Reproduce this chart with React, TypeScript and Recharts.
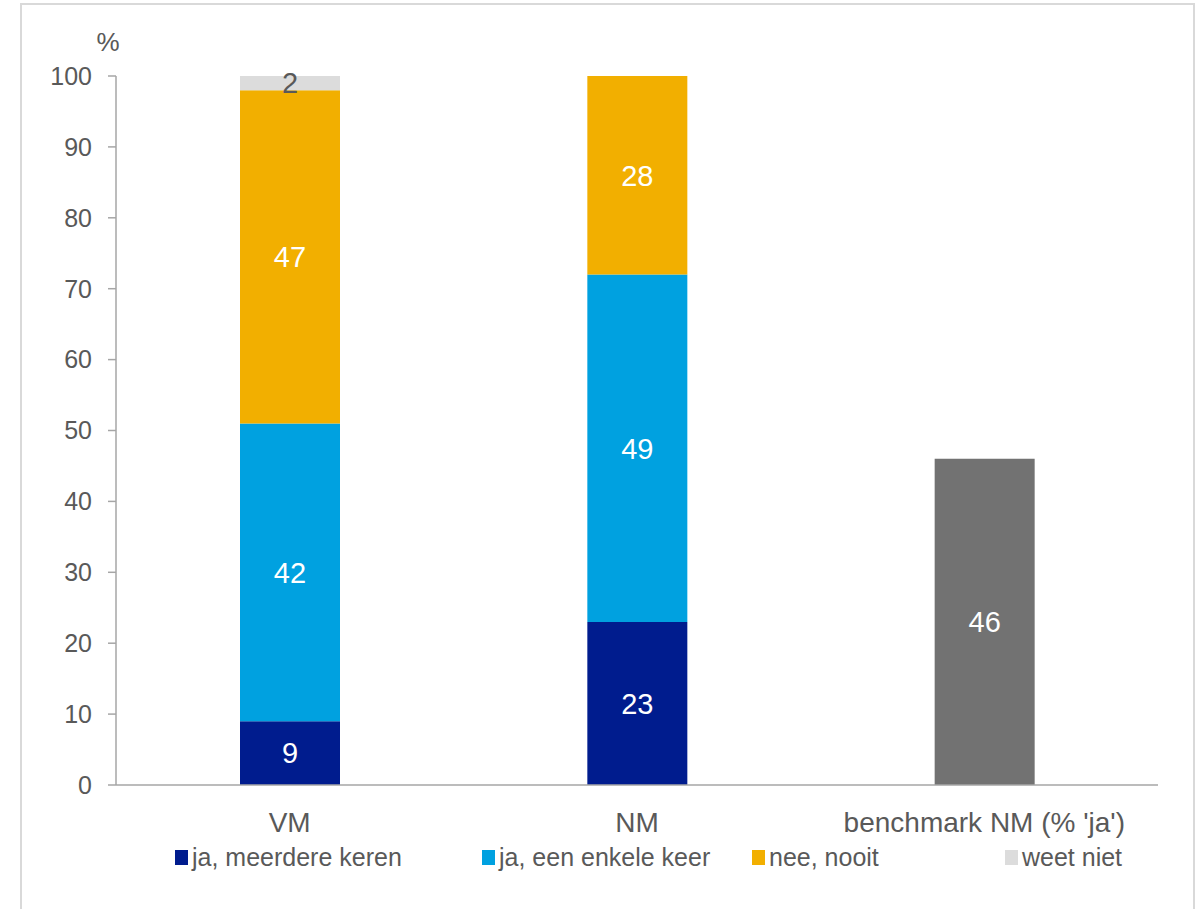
import { BarChart, Bar, XAxis, YAxis, Legend, LabelList } from "recharts";

const categories = ["VM", "NM", "benchmark NM (% 'ja')"];
const jaMeerdere = [9, 23, null];
const jaEnkele = [42, 49, null];
const neeNooit = [47, 28, null];
const weetNiet = [2, 0, null];
const benchmark = [null, null, 46];
const yTicks = [0, 10, 20, 30, 40, 50, 60, 70, 80, 90, 100];

const series = [
  { key: "jaMeerdere", name: "ja, meerdere keren", color: "#001C8E", label: "#ffffff" },
  { key: "jaEnkele", name: "ja, een enkele keer", color: "#00A1E0", label: "#ffffff" },
  { key: "neeNooit", name: "nee, nooit", color: "#F2AF00", label: "#ffffff" },
  { key: "weetNiet", name: "weet niet", color: "#DCDCDC", label: "#595959" },
];

const data = categories.map((name, i) => ({
  name,
  jaMeerdere: jaMeerdere[i],
  jaEnkele: jaEnkele[i],
  neeNooit: neeNooit[i],
  weetNiet: weetNiet[i],
  benchmark: benchmark[i],
}));

const font = "'Liberation Sans', Arial, sans-serif";
const textGrey = "#595959";
const axisGrey = "#a6a6a6";
const legendWidths = [307, 270, 253, 160];

const hideZero = (v: unknown) => (v === 0 || v == null ? "" : String(v));

function LegendContent() {
  return (
    <div style={{ display: "flex", fontFamily: font, fontSize: 25, color: textGrey, lineHeight: "28px" }}>
      {series.map((s, i) => (
        <div
          key={s.key}
          style={{ width: legendWidths[i], flexShrink: 0, display: "flex", alignItems: "center", whiteSpace: "nowrap" }}
        >
          <span style={{ display: "inline-block", width: 13, height: 15, background: s.color, marginRight: 4 }} />
          <span>{s.name}</span>
        </div>
      ))}
    </div>
  );
}

export default function App() {
  return (
    <div style={{ position: "absolute", left: 0, top: 0, width: 1204, height: 909, background: "#fff", overflow: "hidden" }}>
      <div
        style={{
          position: "absolute",
          left: 20,
          top: 3,
          width: 1171,
          height: 920,
          border: "2px solid #d9d9d9",
        }}
      />
      <BarChart
        width={1204}
        height={909}
        data={data}
        margin={{ top: 76, right: 46, bottom: 64, left: 30 }}
        style={{ fontFamily: font, position: "absolute", left: 0, top: 0 }}
      >
        <XAxis
          dataKey="name"
          height={60}
          tickLine={false}
          axisLine={{ stroke: axisGrey, strokeWidth: 1.5 }}
          tick={{ fill: textGrey, fontSize: 28 }}
          tickMargin={21}
        />
        <YAxis
          width={86}
          domain={[0, 100]}
          ticks={yTicks}
          interval={0}
          tick={{ fill: textGrey, fontSize: 25 }}
          tickSize={8}
          tickMargin={16}
          tickLine={{ stroke: axisGrey, strokeWidth: 1.5 }}
          axisLine={{ stroke: axisGrey, strokeWidth: 1.5 }}
          label={{
            content: ({ viewBox }: any) => (
              <text x={viewBox.x + viewBox.width - 8} y={viewBox.y - 25} textAnchor="middle" fill={textGrey} fontSize={26}>
                %
              </text>
            ),
          }}
        />
        <Legend
          verticalAlign="middle"
          layout="horizontal"
          content={<LegendContent />}
          wrapperStyle={{ top: 843, left: 175, width: 1000 }}
        />
        {series.map((s) => (
          <Bar key={s.key} dataKey={s.key} name={s.name} stackId="a" fill={s.color} barSize={100} isAnimationActive={false}>
            <LabelList dataKey={s.key} position="center" fill={s.label} fontSize={29} formatter={hideZero} />
          </Bar>
        ))}
        <Bar dataKey="benchmark" name="benchmark" stackId="a" fill="#727272" barSize={100} isAnimationActive={false}>
          <LabelList dataKey="benchmark" position="center" fill="#ffffff" fontSize={29} formatter={hideZero} />
        </Bar>
      </BarChart>
    </div>
  );
}
